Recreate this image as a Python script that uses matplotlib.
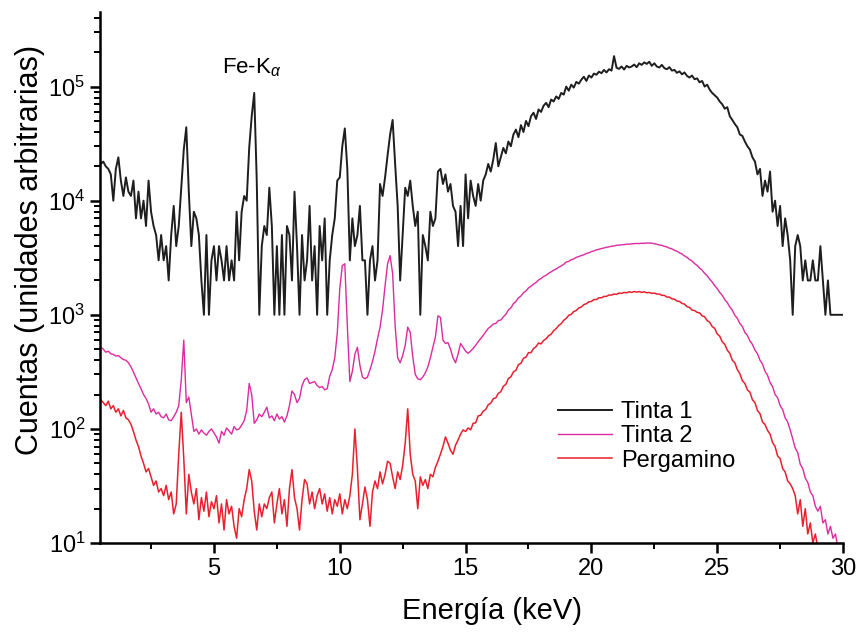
import numpy as np
import matplotlib
matplotlib.use('Agg')
import matplotlib.pyplot as plt
from matplotlib.ticker import LogLocator, MultipleLocator, NullFormatter

plt.rcParams['font.family'] = ['Liberation Sans', 'DejaVu Sans']
plt.rcParams['mathtext.fontset'] = 'custom'
plt.rcParams['mathtext.rm'] = 'Liberation Sans'
plt.rcParams['mathtext.it'] = 'Liberation Sans:italic'

# energia de cada canal, 0.5 .. 30.0 keV en pasos de 0.1
energia = np.arange(5, 301) / 10

# Tinta 1, en miles de cuentas
tinta1_k = [
    21, 22, 20, 19, 17,
    10, 19, 24, 15, 11, 16, 12, 11, 15, 7,
    12, 7, 10, 6, 15, 8, 6, 5, 3, 5,
    3, 4, 2, 5, 9, 4, 6, 13, 28, 44,
    12, 4, 8, 7, 5, 2, 1, 5, 1, 3,
    4, 2, 4, 3, 2, 4, 2, 3, 2, 8,
    3, 8, 11, 10, 29, 55, 88, 15, 1, 4,
    6, 5, 13, 6, 1, 4, 1, 5, 1, 6,
    5, 2, 12, 4, 1, 5, 2, 3, 9, 2,
    4, 1, 6, 3, 7, 1, 3, 5, 7, 15,
    16, 30, 43, 19, 3, 7, 4, 5, 9, 3,
    3, 1, 3, 4, 2, 3, 14, 11, 16, 25,
    38, 51, 21, 9, 2, 5, 13, 11, 15, 9,
    6, 8, 1, 5, 4, 3, 8, 6, 7, 18,
    19, 14, 17, 12, 14, 9, 8, 4, 9, 4,
    17, 7, 15, 11, 9, 14, 10, 15, 17, 21,
    18, 23, 32, 20, 24, 29, 26, 33, 30, 38,
    42, 36, 46, 40, 50, 45, 55, 59, 52, 63,
    60, 68, 72, 66, 77, 74, 82, 78, 88, 85,
    100, 92, 104, 98, 110, 106, 115, 122, 112, 125,
    120, 130, 127, 135, 131, 140, 133, 142, 138, 185,
    146, 143, 150, 141, 152, 147, 150, 156, 148, 160,
    155, 163, 158, 165, 152, 160, 150, 147, 155, 145,
    142, 148, 138, 140, 132, 136, 128, 133, 124, 120,
    125, 116, 118, 109, 112, 100, 104, 94, 88, 84,
    80, 74, 70, 64, 66, 55, 51, 47, 44, 38,
    37, 33, 30, 28, 24, 22, 17, 19, 11, 15,
    12, 18, 8, 10, 6, 9, 4, 7, 5, 3,
    1, 4, 5, 4, 2, 3, 2, 2, 3, 2,
    2, 4, 2, 1, 2, 1, 1, 1, 1, 1,
    1,
]

tinta2 = [
    520, 500, 470, 480, 455,
    450, 435, 440, 420, 405, 400, 380, 350, 315, 280,
    250, 225, 200, 185, 165, 140, 150, 135, 140, 128,
    125, 135, 120, 118, 128, 140, 160, 270, 600, 170,
    190, 135, 95, 100, 90, 98, 92, 88, 95, 100,
    92, 85, 75, 95, 88, 102, 96, 90, 105, 98,
    100, 108, 118, 145, 250, 200, 112, 120, 135, 128,
    140, 155, 125, 130, 118, 135, 122, 128, 115, 130,
    160, 215, 200, 170, 185, 240, 270, 280, 250, 255,
    260, 240, 230, 235, 220, 225, 290, 330, 420, 690,
    1700, 2700, 2800, 800, 260, 320, 450, 520, 360, 285,
    275, 285, 330, 390, 480, 620, 780, 1100, 1800, 2800,
    3300, 2300, 800, 420, 380, 440, 540, 780, 700, 430,
    300, 275, 270, 285, 310, 350, 420, 520, 640, 980,
    950, 600, 560, 570, 500, 420, 380, 450, 560, 520,
    480, 460, 480, 510, 540, 580, 620, 660, 710, 760,
    790, 830, 840, 890, 900, 960, 1010, 1100, 1150, 1250,
    1310, 1410, 1460, 1560, 1620, 1720, 1780, 1860, 1920, 2020,
    2080, 2170, 2220, 2310, 2380, 2460, 2520, 2610, 2680, 2770,
    2900, 2940, 3040, 3090, 3190, 3240, 3310, 3360, 3450, 3490,
    3580, 3630, 3710, 3750, 3810, 3850, 3910, 3940, 3990, 4010,
    4070, 4070, 4110, 4120, 4160, 4160, 4190, 4200, 4220, 4210,
    4240, 4230, 4260, 4250, 4250, 4190, 4160, 4090, 4060, 3980,
    3930, 3840, 3780, 3680, 3610, 3490, 3410, 3280, 3190, 3050,
    2960, 2810, 2710, 2570, 2460, 2310, 2200, 2050, 1940, 1800,
    1700, 1570, 1480, 1360, 1280, 1170, 1100, 990, 930, 840,
    790, 700, 660, 590, 550, 490, 455, 400, 370, 320,
    295, 255, 235, 200, 188, 160, 148, 125, 115, 98,
    82, 68, 62, 49, 45, 37, 34, 28, 26, 21,
    19, 21, 15, 16, 12, 14, 11, 12, 9, 10,
    8,
]

pergamino = [
    180, 170, 160, 175, 150,
    160, 140, 150, 130, 145, 125, 120, 110, 95, 80,
    70, 58, 50, 42, 45, 38, 32, 35, 28, 30,
    26, 32, 24, 28, 18, 22, 60, 140, 55, 18,
    40, 28, 22, 30, 16, 25, 19, 28, 17, 23,
    20, 26, 15, 22, 13, 24, 18, 21, 14, 11,
    20, 17, 24, 30, 44, 35, 19, 13, 22, 17,
    22, 20, 25, 28, 15, 22, 30, 18, 24, 14,
    30, 44, 25, 20, 13, 24, 36, 33, 22, 28,
    20, 26, 30, 22, 27, 19, 25, 18, 24, 21,
    27, 18, 24, 20, 26, 40, 100, 45, 16, 22,
    31, 24, 14, 28, 35, 30, 42, 33, 40, 52,
    50, 38, 30, 42, 36, 48, 75, 150, 60, 40,
    35, 20, 38, 32, 36, 30, 40, 38, 46, 52,
    60, 70, 85, 75, 65, 60, 72, 80, 90, 98,
    95, 102, 98, 112, 113, 130, 132, 143, 148, 163,
    168, 184, 187, 205, 212, 236, 246, 276, 286, 316,
    326, 366, 376, 416, 426, 466, 466, 506, 526, 566,
    556, 596, 616, 656, 676, 726, 756, 806, 836, 896,
    930, 990, 1010, 1070, 1090, 1150, 1170, 1230, 1250, 1300,
    1310, 1360, 1360, 1410, 1410, 1450, 1450, 1490, 1490, 1520,
    1510, 1550, 1540, 1570, 1560, 1590, 1570, 1600, 1580, 1600,
    1570, 1590, 1560, 1570, 1540, 1550, 1520, 1520, 1480, 1480,
    1430, 1430, 1380, 1370, 1320, 1310, 1260, 1240, 1180, 1160,
    1100, 1090, 1050, 1040, 980, 960, 890, 860, 790, 760,
    680, 650, 580, 550, 490, 460, 400, 380, 330, 305,
    265, 250, 220, 210, 180, 170, 145, 136, 115, 109,
    97, 90, 76, 70, 58, 55, 45, 42, 35, 33,
    30, 26, 18, 24, 14, 20, 12, 15, 10, 12,
    9, 8, 7, 6, 5, 5, 4, 4, 3, 3,
    3,
]

series_labels = ['Tinta 1', 'Tinta 2', 'Pergamino']
series_colors = ['#1e1e1e', '#dc2aa0', '#e8202e']

fig = plt.figure(figsize=(8.59, 6.34), dpi=100)
ax = fig.add_axes([0.1164, 0.1435, 0.865, 0.8375])

ax.plot(energia, np.array(tinta1_k) * 1000, color=series_colors[0], lw=1.4, label=series_labels[0])
ax.plot(energia, tinta2, color=series_colors[1], lw=1.0, label=series_labels[1])
ax.plot(energia, pergamino, color=series_colors[2], lw=1.1, label=series_labels[2])

ax.set_yscale('log')
ax.set_xlim(0.47, 30)
ax.set_ylim(10, 4.5e5)

ax.xaxis.set_major_locator(MultipleLocator(5))
ax.xaxis.set_minor_locator(MultipleLocator(2.5))
ax.yaxis.set_major_locator(LogLocator(base=10, numticks=10))
ax.yaxis.set_minor_locator(LogLocator(base=10, subs=np.arange(2, 10), numticks=10))
ax.yaxis.set_minor_formatter(NullFormatter())

for side in ['top', 'right']:
    ax.spines[side].set_visible(False)
for side in ['left', 'bottom']:
    ax.spines[side].set_linewidth(1.8)

ax.tick_params(which='major', direction='out', length=7, width=1.8, labelsize=17)
ax.tick_params(which='minor', direction='out', length=4, width=1.4)

ax.set_xlabel('Energía (keV)', fontsize=21)
ax.set_ylabel('Cuentas (unidades arbitrarias)', fontsize=22)
ax.xaxis.set_label_coords(0.528, -0.102)
ax.yaxis.set_label_coords(-0.074, 0.552)

ax.text(5.3, 1.3e5, 'Fe-K$_\\alpha$', fontsize=16)

ax.legend(loc='upper left', bbox_to_anchor=(0.6, 0.29), frameon=False, fontsize=17,
          handlelength=2.3, handletextpad=0.4, labelspacing=0.1, borderpad=0)

fig.savefig('out.png', dpi=100)
